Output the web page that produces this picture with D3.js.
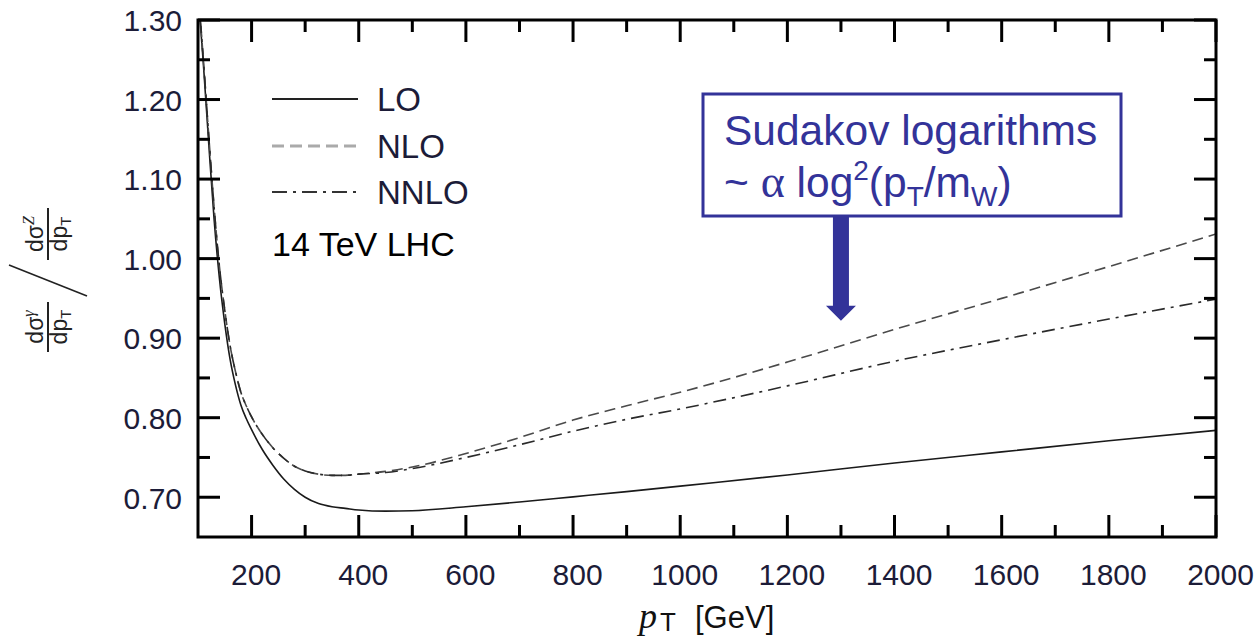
<!DOCTYPE html>
<html><head><meta charset="utf-8">
<script src="https://cdn.jsdelivr.net/npm/d3@7"></script>
<style>
html,body{margin:0;padding:0;background:#fff;}
svg{display:block;}
text{font-family:"Liberation Sans",Arial,sans-serif;}
</style></head>
<body><svg id="c" width="1259" height="640"></svg>
<script>
// ---- data ----
const pT   = [100,105,110,120,130,140,150,160,170,180,190,200,220,240,260,280,300,325,350,375,400,450,500,600,700,800,900,1000,1200,1400,1600,1800,2000];
const LO   = [1.335,1.29,1.245,1.145,1.05,0.975,0.918,0.873,0.841,0.816,0.799,0.785,0.760,0.740,0.723,0.710,0.700,0.692,0.688,0.686,0.684,0.6825,0.683,0.688,0.694,0.7005,0.707,0.714,0.728,0.743,0.757,0.771,0.784];
const NLO  = [1.335,1.295,1.25,1.155,1.065,0.99,0.935,0.89,0.858,0.832,0.815,0.801,0.779,0.762,0.749,0.739,0.733,0.729,0.7275,0.7275,0.729,0.7325,0.738,0.755,0.775,0.797,0.815,0.832,0.870,0.911,0.950,0.990,1.031];
const NNLO = [1.335,1.295,1.25,1.155,1.065,0.99,0.935,0.89,0.858,0.832,0.815,0.801,0.779,0.762,0.749,0.739,0.733,0.729,0.7275,0.7275,0.729,0.731,0.736,0.750,0.766,0.783,0.798,0.811,0.840,0.871,0.898,0.924,0.949];
const xMajor = [200,400,600,800,1000,1200,1400,1600,1800,2000];
const xMinor = [300,500,700,900,1100,1300,1500,1700,1900];
const yMajor = [0.70,0.80,0.90,1.00,1.10,1.20,1.30];
const yMinor = [0.75,0.85,0.95,1.05,1.15,1.25];
const seriesNames = ["LO","NLO","NNLO"];
const energyLabel = "14 TeV LHC";
const arrowAt = [1300, 0.922];

// ---- layout ----
const L=198, R=1216, T=20, B=537;
const svg = d3.select("#c");
const x = d3.scaleLinear().domain([100,2000]).range([L,R]);
const y = d3.scaleLinear().domain([0.65,1.30]).range([B,T]);
const ink = "#1c1c38";

svg.append("defs").append("clipPath").attr("id","clip")
  .append("rect").attr("x",L).attr("y",T).attr("width",R-L).attr("height",B-T);

// curves
const line = d3.line().x(d=>x(d[0])).y(d=>y(d[1])).curve(d3.curveMonotoneX);
const styles = [
  {data:LO,   color:"#1a1a1a", dash:null,        w:1.6},
  {data:NLO,  color:"#4a4a4a", dash:"11,6",      w:1.6},
  {data:NNLO, color:"#2a2a2a", dash:"13,6,3,6",  w:1.6}
];
const gc = svg.append("g").attr("clip-path","url(#clip)");
styles.forEach(s=>{
  gc.append("path").datum(pT.map((p,i)=>[p,s.data[i]]))
    .attr("d",line).attr("fill","none").attr("stroke",s.color)
    .attr("stroke-width",s.w).attr("stroke-dasharray",s.dash);
});

// axes labels
const axB = d3.axisBottom(x).tickValues(xMajor).tickSize(0).tickFormat(d3.format("d"));
const gx = svg.append("g").attr("transform",`translate(0,${B})`).call(axB);
gx.select(".domain").remove();
gx.selectAll("text").attr("font-size",30).attr("fill",ink).attr("dy",0).attr("y",48).attr("dx",4)
  .style("font-family","'Liberation Sans',Arial,sans-serif");
const axL = d3.axisLeft(y).tickValues(yMajor).tickSize(0).tickFormat(d3.format(".2f"));
const gy = svg.append("g").attr("transform",`translate(${L},0)`).call(axL);
gy.select(".domain").remove();
gy.selectAll("text").attr("font-size",30).attr("fill",ink).attr("x",-16).attr("dy","0.36em")
  .style("font-family","'Liberation Sans',Arial,sans-serif");

// ticks mirrored on all four sides
const tk = svg.append("g").attr("stroke","#000").attr("stroke-width",3);
function xt(vals,len){vals.forEach(v=>{
  tk.append("line").attr("x1",x(v)).attr("x2",x(v)).attr("y1",B).attr("y2",B-len);
  tk.append("line").attr("x1",x(v)).attr("x2",x(v)).attr("y1",T).attr("y2",T+len);
});}
function yt(vals,len){vals.forEach(v=>{
  tk.append("line").attr("y1",y(v)).attr("y2",y(v)).attr("x1",L).attr("x2",L+len);
  tk.append("line").attr("y1",y(v)).attr("y2",y(v)).attr("x1",R).attr("x2",R-len);
});}
xt(xMajor,22); xt(xMinor,12); yt(yMajor,22); yt(yMinor,12);
svg.append("rect").attr("x",L).attr("y",T).attr("width",R-L).attr("height",B-T)
  .attr("fill","none").attr("stroke","#000").attr("stroke-width",3);

// x title
const xtitle = svg.append("text").attr("y",628).attr("font-size",31).attr("fill","#111");
xtitle.append("tspan").attr("x",639).text("p").style("font-family","'Liberation Serif','Times New Roman',serif").style("font-style","italic").attr("font-size",36);
xtitle.append("tspan").attr("x",660).text("T").attr("font-size",26).attr("dy",3);
xtitle.append("tspan").attr("x",695).text("[GeV]").attr("dy",-3);

// y title (rotated fraction / fraction)
const yg = svg.append("g").attr("transform","translate(48,280) rotate(-90)").attr("fill","#222");
function frac(cu, num, sup, half){
  yg.append("line").attr("x1",cu-half).attr("x2",cu+half).attr("y1",0).attr("y2",0)
    .attr("stroke","#222").attr("stroke-width",2);
  const n = yg.append("text").attr("x",cu).attr("y",-5).attr("text-anchor","middle").attr("font-size",23);
  n.append("tspan").text("d"+num);
  n.append("tspan").text(sup).attr("font-size",16).attr("dy",-9).style("font-style","italic")
    .style("font-family","'Liberation Serif',serif");
  const d = yg.append("text").attr("x",cu).attr("y",19).attr("text-anchor","middle").attr("font-size",23);
  d.append("tspan").text("dp");
  d.append("tspan").text("T").attr("font-size",15).attr("dy",4);
}
frac(-47,"σ","γ",25);
frac(46,"σ","Z",26);
yg.append("line").attr("x1",-16).attr("y1",39).attr("x2",15).attr("y2",-39)
  .attr("stroke","#222").attr("stroke-width",1.6);

// legend
const lg = svg.append("g");
const legY = [99,146,192];
const legStyle = [
  {color:"#222", dash:null, w:2},
  {color:"#aaa", dash:"12,6", w:3},
  {color:"#333", dash:"15,6,3,6", w:2}
];
seriesNames.forEach((n,i)=>{
  lg.append("line").attr("x1",272).attr("x2",358).attr("y1",legY[i]).attr("y2",legY[i])
    .attr("stroke",legStyle[i].color).attr("stroke-width",legStyle[i].w).attr("stroke-dasharray",legStyle[i].dash);
  lg.append("text").attr("x",377).attr("y",legY[i]).attr("dy","0.36em").attr("font-size",33).attr("fill",ink).text(n);
});
lg.append("text").attr("x",272).attr("y",244).attr("dy","0.36em").attr("font-size",34).attr("fill","#000").text(energyLabel);

// annotation
const blue = "#333399";
svg.append("rect").attr("x",703).attr("y",94).attr("width",418).attr("height",122)
  .attr("fill","#fff").attr("stroke",blue).attr("stroke-width",3);
svg.append("text").attr("x",724).attr("y",145).attr("font-size",42.5).attr("fill",blue).text("Sudakov logarithms");
const t2 = svg.append("text").attr("x",724).attr("y",197).attr("font-size",42.5).attr("fill",blue);
t2.append("tspan").text("~ ");
t2.append("tspan").text("α").style("font-family","'Liberation Serif','Times New Roman',serif").attr("font-size",46);
t2.append("tspan").text(" log");
t2.append("tspan").text("2").attr("font-size",28).attr("dy",-17);
t2.append("tspan").text("(p").attr("dy",17);
t2.append("tspan").text("T").attr("font-size",28).attr("dy",9);
t2.append("tspan").text("/m").attr("dy",-9);
t2.append("tspan").text("W").attr("font-size",28).attr("dy",9);
t2.append("tspan").text(")").attr("dy",-9);

const ax = x(arrowAt[0]), ay = y(arrowAt[1]);
svg.append("polygon").attr("fill",blue)
  .attr("points",[[ax-8,217],[ax+8,217],[ax+8,ay-15],[ax+15,ay-15],[ax,ay],[ax-15,ay-15],[ax-8,ay-15]].map(p=>p.join(",")).join(" "));
</script></body></html>
